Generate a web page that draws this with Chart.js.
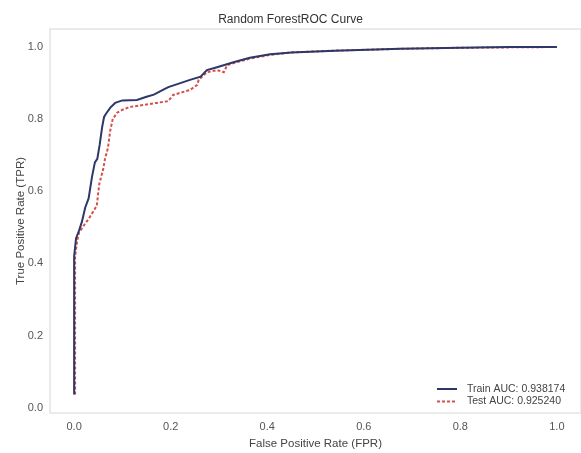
<!DOCTYPE html>
<html>
<head>
<meta charset="utf-8">
<script src="https://cdn.jsdelivr.net/npm/chart.js@4.4.1/dist/chart.umd.min.js"></script>
<style>
    html, body { margin: 0; padding: 0; background: #ffffff; }
    #wrap { width: 581px; height: 453px; }
</style>
</head>
<body>
<div id="wrap"><canvas id="rocChart" width="581" height="453"></canvas></div>
<script>
// values
const trainFpr = [0, 0, 0.004, 0.01, 0.016, 0.023, 0.03, 0.037, 0.043, 0.048, 0.053, 0.058, 0.062, 0.066, 0.075, 0.085, 0.1, 0.13, 0.15, 0.165, 0.182, 0.195, 0.22, 0.24, 0.262, 0.275, 0.296, 0.33, 0.364, 0.406, 0.45, 0.54, 0.675, 0.8, 0.9, 1.0];
const trainTpr = [0.036, 0.42, 0.47, 0.49, 0.515, 0.555, 0.58, 0.64, 0.68, 0.69, 0.73, 0.778, 0.806, 0.815, 0.832, 0.845, 0.852, 0.853, 0.862, 0.868, 0.88, 0.889, 0.9, 0.909, 0.918, 0.936, 0.944, 0.958, 0.97, 0.98, 0.985, 0.99, 0.995, 0.998, 1.0, 1.0];

const testFpr = [0.002, 0.002, 0.006, 0.01, 0.02, 0.031, 0.04, 0.047, 0.052, 0.06, 0.064, 0.07, 0.075, 0.08, 0.089, 0.1, 0.116, 0.143, 0.17, 0.195, 0.205, 0.24, 0.255, 0.258, 0.275, 0.296, 0.31, 0.317, 0.337, 0.364, 0.406, 0.45, 0.54, 0.675, 0.8, 0.9, 1.0];
const testTpr = [0.036, 0.42, 0.46, 0.485, 0.505, 0.525, 0.545, 0.56, 0.62, 0.66, 0.69, 0.72, 0.77, 0.8, 0.818, 0.826, 0.834, 0.839, 0.845, 0.85, 0.867, 0.881, 0.895, 0.909, 0.93, 0.936, 0.93, 0.95, 0.958, 0.968, 0.978, 0.985, 0.99, 0.995, 0.998, 0.999, 1.0];

const seriesLabels = ['Train AUC: 0.938174', 'Test AUC: 0.925240'];
const xTicks = [0, 0.2, 0.4, 0.6, 0.8, 1.0];
const yTicks = [0, 0.2, 0.4, 0.6, 0.8, 1.0];

function toPoints(xs, ys) {
    return xs.map((x, i) => ({x: x, y: ys[i]}));
}

const textColor = '#555555';
const fontFamily = '"Liberation Sans", Arial, sans-serif';

// light frame round the plot area
const framePlugin = {
    id: 'frame',
    beforeDatasetsDraw(chart) {
        const a = chart.chartArea;
        const ctx = chart.ctx;
        ctx.save();
        ctx.strokeStyle = '#e4e4e4';
        ctx.lineWidth = 1.5;
        ctx.strokeRect(a.left, a.top, a.right - a.left, a.bottom - a.top);
        ctx.restore();
    }
};

// legend in the lower right corner of the plot
const cornerLegend = {
    id: 'cornerLegend',
    afterDraw(chart) {
        const ctx = chart.ctx;
        const a = chart.chartArea;
        const x0 = a.right - 144;
        let y = a.bottom - 24;
        ctx.save();
        ctx.font = '10.5px ' + fontFamily;
        ctx.textBaseline = 'middle';
        chart.data.datasets.forEach((ds) => {
            ctx.strokeStyle = ds.borderColor;
            ctx.lineWidth = ds.borderWidth;
            ctx.setLineDash(ds.borderDash || []);
            ctx.beginPath();
            ctx.moveTo(x0, y);
            ctx.lineTo(x0 + 20, y);
            ctx.stroke();
            ctx.setLineDash([]);
            ctx.fillStyle = '#444444';
            ctx.fillText(ds.label, x0 + 30, y);
            y += 12.5;
        });
        ctx.restore();
    }
};

const ctx = document.getElementById('rocChart').getContext('2d');
const myChart = new Chart(ctx, {
    type: 'line',
    data: {
        datasets: [{
            label: seriesLabels[0],
            data: toPoints(trainFpr, trainTpr),
            borderColor: '#2d3768',
            borderWidth: 2,
            pointRadius: 0,
            fill: false,
            tension: 0
        }, {
            label: seriesLabels[1],
            data: toPoints(testFpr, testTpr),
            borderColor: '#d5504c',
            borderWidth: 2,
            borderDash: [3, 2],
            pointRadius: 0,
            fill: false,
            tension: 0
        }]
    },
    plugins: [framePlugin, cornerLegend],
    options: {
        responsive: false,
        animation: false,
        layout: { padding: 0 },
        plugins: {
            legend: { display: false },
            tooltip: { enabled: false },
            title: {
                display: true,
                text: 'Random ForestROC Curve',
                color: '#333333',
                align: 'center',
                font: { family: fontFamily, size: 12, weight: 'normal', lineHeight: 1.2 },
                padding: { top: 12, bottom: 2.6 }
            }
        },
        scales: {
            x: {
                type: 'linear',
                min: -0.05,
                max: 1.05,
                afterBuildTicks: (scale) => { scale.ticks = xTicks.map(v => ({value: v})); },
                afterFit: (scale) => { scale.height = 40; },
                grid: { display: false, drawTicks: false },
                border: { display: false },
                ticks: {
                    color: textColor,
                    padding: 7,
                    maxRotation: 0,
                    font: { family: fontFamily, size: 11 },
                    callback: (value) => Number(value).toFixed(1)
                },
                title: {
                    display: true,
                    text: 'False Positive Rate (FPR)',
                    color: '#444444',
                    padding: { top: 0, bottom: 2 },
                    font: { family: fontFamily, size: 11.5 }
                }
            },
            y: {
                type: 'linear',
                min: -0.015,
                max: 1.05,
                afterBuildTicks: (scale) => { scale.ticks = yTicks.map(v => ({value: v})); },
                afterFit: (scale) => { scale.width = 50; },
                grid: { display: false, drawTicks: false },
                border: { display: false },
                ticks: {
                    color: textColor,
                    padding: 7,
                    font: { family: fontFamily, size: 11 },
                    callback: (value) => Number(value).toFixed(1)
                },
                title: {
                    display: true,
                    text: 'True Positive Rate (TPR)',
                    color: '#444444',
                    padding: { top: 14, bottom: 0 },
                    font: { family: fontFamily, size: 11.5 }
                }
            }
        }
    }
});
</script>
</body>
</html>
